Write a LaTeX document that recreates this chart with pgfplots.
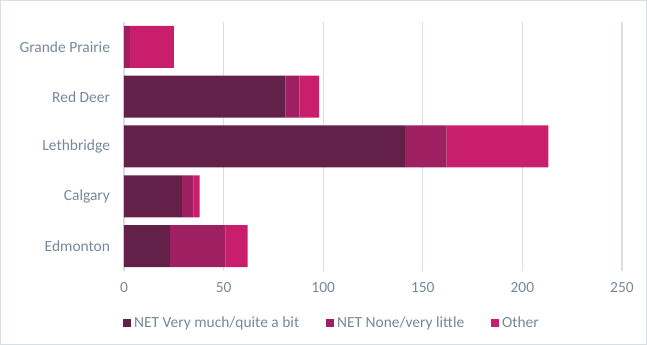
\documentclass[border=0pt]{standalone}
\usepackage{pgfplots}
\pgfplotsset{compat=1.18}
\usepackage{fontspec}
\setmainfont{Carlito}
\definecolor{txt}{RGB}{120,136,154}
\definecolor{gridc}{RGB}{217,222,228}
\definecolor{cA}{RGB}{99,32,72}
\definecolor{cB}{RGB}{158,32,99}
\definecolor{cC}{RGB}{200,30,107}
\begin{document}
\begin{tikzpicture}
\useasboundingbox (0,0) rectangle (485.25pt,258.75pt);
\draw[gridc, line width=0.6pt] (0.4pt,0.4pt) rectangle (484.85pt,258.35pt);
\begin{axis}[
  at={(93pt,55.5pt)}, anchor=south west,
  scale only axis, width=373.5pt, height=186.75pt,
  xbar stacked, bar width=31.5pt,
  xmin=0, xmax=250, ymin=-0.5, ymax=4.5,
  xtick={0,50,...,250},
  ytick={0,1,2,3,4},
  yticklabels={Edmonton,Calgary,Lethbridge,Red Deer,Grande Prairie},
  xmajorgrids, grid style={gridc, line width=0.8pt},
  axis line style={draw=none},
  major tick length=0pt,
  tick label style={font=\fontsize{11.6}{13}\selectfont, text=txt},
  xticklabel style={yshift=-5pt},
  yticklabel style={xshift=-7pt},
  /pgf/number format/assume math mode=true,
  legend style={at={(0.418,-0.209)}, anchor=center, draw=none, legend columns=3,
    font=\fontsize{11.6}{13}\selectfont, text=txt, /tikz/every even column/.append style={column sep=18pt}},
  legend image code/.code={\fill[#1] (0pt,-3.2pt) rectangle (6.4pt,3.2pt);},
]
\addplot[fill=cA, draw=none] coordinates {(23,0) (29,1) (141,2) (81,3) (0,4)};
\addplot[fill=cB, draw=none] coordinates {(28,0) (6,1) (21,2) (7,3) (3,4)};
\addplot[fill=cC, draw=none] coordinates {(11,0) (3,1) (51,2) (10,3) (22,4)};
\legend{NET Very much/quite a bit, NET None/very little, Other}
\end{axis}
\end{tikzpicture}
\end{document}
